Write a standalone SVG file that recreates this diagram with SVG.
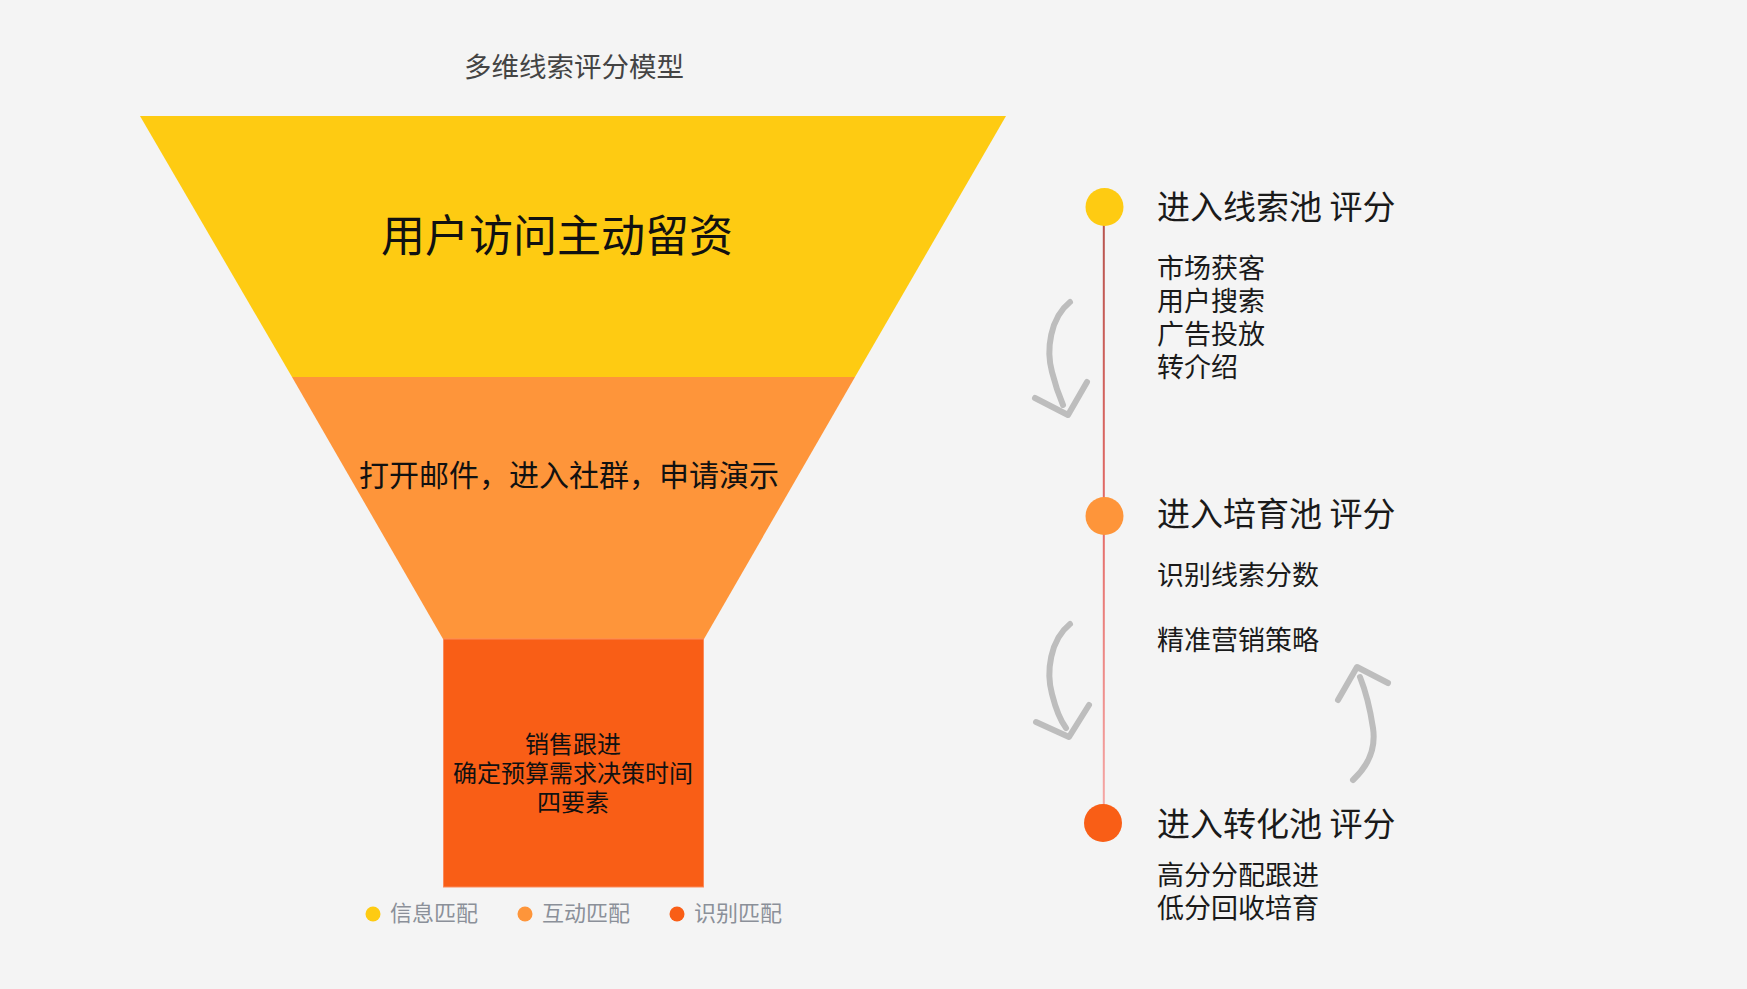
<svg xmlns="http://www.w3.org/2000/svg" width="1747" height="989" viewBox="0 0 1747 989">
<style>
text{font-family:"Noto Sans CJK SC","Noto Sans",sans-serif;dominant-baseline:central}
.h{font-size:33px;fill:#1a1a1a}
.s{font-size:27px;fill:#1a1a1a}
.lg{font-size:22px;fill:#8b9099}
.arr{fill:none;stroke:#bdbdbd;stroke-width:6;stroke-linecap:round;stroke-linejoin:round}
</style>
<defs>
<linearGradient id="tl" x1="0" y1="0" x2="0" y2="1">
<stop offset="0" stop-color="#b5534d"/>
<stop offset="0.5" stop-color="#e46a66"/>
<stop offset="1" stop-color="#f6aaa8"/>
</linearGradient>
</defs>
<rect width="1747" height="989" fill="#f4f4f4"/>
<text x="574" y="65" text-anchor="middle" style="font-size:27.5px;fill:#444">多维线索评分模型</text>
<g id="funnel-top">
<polygon points="140,116 1006,116 855,377 292,377" fill="#fecb12"/>
<text x="557" y="233" text-anchor="middle" style="font-size:44px;fill:#111">用户访问主动留资</text>
</g>
<g id="funnel-mid">
<polygon points="292,377 855,377 704,639 443,639" fill="#fe953a"/>
<text x="569" y="473" text-anchor="middle" style="font-size:30px;fill:#111">打开邮件，进入社群，申请演示</text>
</g>
<g id="funnel-bottom">
<rect x="443.5" y="639" width="260" height="248" fill="#f95e16" stroke="#fb8a5a" stroke-width="1"/>
<text x="573" y="742" text-anchor="middle" style="font-size:24px;fill:#111">销售跟进</text>
<text x="573" y="771" text-anchor="middle" style="font-size:24px;fill:#111">确定预算需求决策时间</text>
<text x="573" y="800" text-anchor="middle" style="font-size:24px;fill:#111">四要素</text>
</g>
<g id="legend">
<circle cx="373" cy="914" r="7.5" fill="#fecb12"/>
<text x="390" y="911" class="lg">信息匹配</text>
<circle cx="525" cy="914" r="7.5" fill="#fe953a"/>
<text x="542" y="911" class="lg">互动匹配</text>
<circle cx="677" cy="914" r="7.5" fill="#f95e16"/>
<text x="694" y="911" class="lg">识别匹配</text>
</g>
<g id="connectors">
<rect x="1102.8" y="207" width="2" height="616" fill="url(#tl)"/>
<path class="arr" d="M1070,302 C1050,318 1046,350 1052,372 C1056,388 1060,398 1063,405"/>
<path class="arr" d="M1035,398 L1068,415 L1087,382"/>
<path class="arr" d="M1070,624 C1050,640 1046,672 1052,694 C1056,710 1060,720 1066,728"/>
<path class="arr" d="M1036,722 L1069,737 L1089,705"/>
<path class="arr" d="M1353,780 C1368,766 1376,748 1373,728 C1370,708 1366,692 1360,677"/>
<path class="arr" d="M1338,700 L1357,667 L1388,683"/>
</g>
<g id="stage1">
<circle cx="1104.5" cy="207" r="19" fill="#fecb12"/>
<text x="1157" y="205" class="h">进入线索池 评分</text>
<text x="1157" y="266" class="s">市场获客</text>
<text x="1157" y="299" class="s">用户搜索</text>
<text x="1157" y="332" class="s">广告投放</text>
<text x="1157" y="365" class="s">转介绍</text>
</g>
<g id="stage2">
<circle cx="1104.5" cy="516" r="19" fill="#fe953a"/>
<text x="1157" y="512" class="h">进入培育池 评分</text>
<text x="1157" y="573" class="s">识别线索分数</text>
<text x="1157" y="638" class="s">精准营销策略</text>
</g>
<g id="stage3">
<circle cx="1103" cy="823" r="19" fill="#f95e16"/>
<text x="1157" y="822" class="h">进入转化池 评分</text>
<text x="1157" y="873" class="s">高分分配跟进</text>
<text x="1157" y="906" class="s">低分回收培育</text>
</g>
</svg>
